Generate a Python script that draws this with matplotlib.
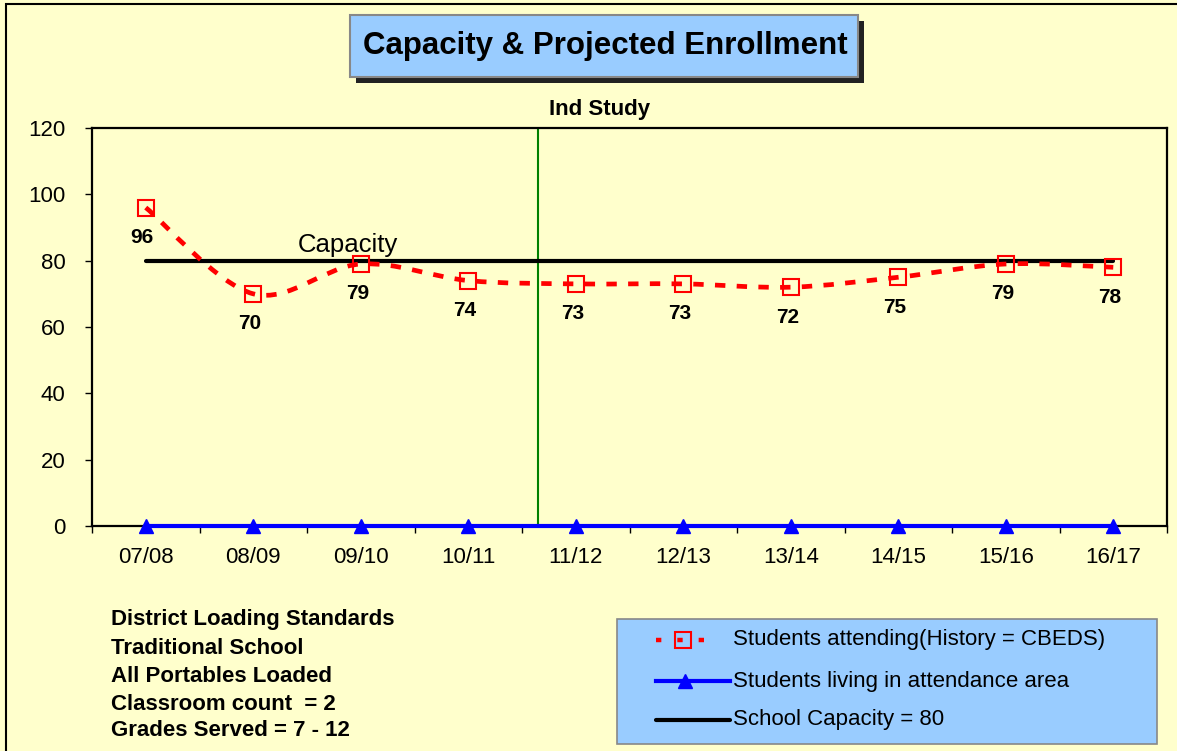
import matplotlib
matplotlib.use("Agg")
import matplotlib.pyplot as plt
from matplotlib.path import Path
from matplotlib.patches import PathPatch, Rectangle
from matplotlib.lines import Line2D
import numpy as np

plt.rcParams['font.family'] = ['Liberation Sans', 'DejaVu Sans']

# ---- data ----
years = ["07/08", "08/09", "09/10", "10/11", "11/12", "12/13", "13/14", "14/15", "15/16", "16/17"]
attending = [96, 70, 79, 74, 73, 73, 72, 75, 79, 78]
living = [0, 0, 0, 0, 0, 0, 0, 0, 0, 0]
capacity = [80, 80, 80, 80, 80, 80, 80, 80, 80, 80]
y_ticks = [0, 20, 40, 60, 80, 100, 120]
divider_pos = 3.65
title = "Capacity & Projected Enrollment"
divider_label = "Ind Study"
notes = ["District Loading Standards", "Traditional School", "All Portables Loaded",
         "Classroom count  = 2", "Grades Served = 7 - 12"]
legend_labels = ["Students attending(History = CBEDS)", "Students living in attendance area",
                 "School Capacity = 80"]

BG = "#FFFFCC"
BOX = "#99CCFF"
W, H = 1177, 751

fig = plt.figure(figsize=(W / 100, H / 100), dpi=100, facecolor=BG)

def fx(px):
    return px / W

def fy(py):
    return 1 - py / H

# outer border
fig.patches.append(Rectangle((fx(6), fy(760)), fx(1200) - fx(6), fy(4) - fy(760),
                             transform=fig.transFigure, facecolor="none",
                             edgecolor="black", lw=1.5, zorder=0))

ax = fig.add_axes([fx(92), fy(526), fx(1167) - fx(92), fy(128) - fy(526)])
ax.set_facecolor(BG)
x = np.arange(len(years))
ax.set_xlim(-0.5, len(years) - 0.5)
ax.set_ylim(0, 120)

# vertical divider
ax.axvline(divider_pos, color="#008000", lw=1.5, zorder=2)

# capacity line
ax.plot(x, capacity, color="black", lw=3, solid_capstyle="round", zorder=3)
ax.text(1.41, 84.7, "Capacity", fontsize=18.5, ha="left", va="center", zorder=5)

# smoothed attending line (Catmull-Rom bezier)
pts = np.column_stack([x, attending]).astype(float)
verts = [tuple(pts[0])]
codes = [Path.MOVETO]
n = len(pts)
for i in range(n - 1):
    p0 = pts[i - 1] if i > 0 else pts[i]
    p1 = pts[i]
    p2 = pts[i + 1]
    p3 = pts[i + 2] if i + 2 < n else pts[i + 1]
    c1 = p1 + (p2 - p0) / 6.0
    c2 = p2 - (p3 - p1) / 6.0
    verts += [tuple(c1), tuple(c2), tuple(p2)]
    codes += [Path.CURVE4, Path.CURVE4, Path.CURVE4]
ax.add_patch(PathPatch(Path(verts, codes), facecolor="none", edgecolor="red",
                       lw=3.4, linestyle=(0, (2.2, 2.4)), zorder=4))
ax.plot(x, attending, linestyle="none", marker="s", markersize=11,
        markerfacecolor="none", markeredgecolor="red", markeredgewidth=1.5, zorder=6)
for xi, v in zip(x, attending):
    ax.annotate(str(v), (xi, v), xytext=(-2.5, -21.5), textcoords="offset points",
                ha="center", va="center", fontsize=15, fontweight="bold", zorder=7)

# living line
ax.plot(x, living, color="blue", lw=3, marker="^", markersize=10,
        clip_on=False, zorder=5)

# axes styling
for s in ax.spines.values():
    s.set_color("black")
    s.set_linewidth(1.6)
ax.set_yticks(y_ticks)
ax.set_yticklabels([str(t) for t in y_ticks], fontsize=16)
ax.tick_params(axis="y", direction="out", length=5, width=1, pad=14)
ax.set_xticks(x)
ax.set_xticklabels(years, fontsize=16)
ax.tick_params(axis="x", which="major", length=0, pad=15)
ax.set_xticks(np.arange(-0.5, len(years), 1.0), minor=True)
ax.tick_params(axis="x", which="minor", direction="out", length=5, width=1)

# title box
fig.patches.append(Rectangle((fx(356), fy(83)), fx(864) - fx(356), fy(21) - fy(83),
                             transform=fig.transFigure, facecolor="#222222",
                             edgecolor="none", zorder=1))
fig.patches.append(Rectangle((fx(350), fy(77)), fx(858) - fx(350), fy(15) - fy(77),
                             transform=fig.transFigure, facecolor=BOX,
                             edgecolor="#888888", lw=1.5, zorder=2))
fig.text(fx(605), fy(46), title, fontsize=22.5, fontweight="bold",
         ha="center", va="center", zorder=3)

fig.text(fx(600), fy(110), divider_label, fontsize=16, fontweight="bold",
         ha="center", va="center")

# notes
note_y = [620, 648, 677, 704, 731]
for t, yy in zip(notes, note_y):
    fig.text(fx(111), fy(yy), t, fontsize=16, fontweight="bold", ha="left", va="center")

# legend box
fig.patches.append(Rectangle((fx(617), fy(744)), fx(1157) - fx(617), fy(619) - fy(744),
                             transform=fig.transFigure, facecolor=BOX,
                             edgecolor="#888888", lw=1.2, zorder=1))
rows = [640, 681, 720]
l1 = Line2D([fx(656), fx(708)], [fy(rows[0])] * 2, transform=fig.transFigure,
            color="red", lw=3.2, linestyle=(0, (1.2, 3.6)), zorder=3)
m1 = Line2D([fx(683)], [fy(rows[0])], transform=fig.transFigure, marker="s",
            markersize=11, markerfacecolor="none", markeredgecolor="red",
            markeredgewidth=1.5, linestyle="none", zorder=4)
l2 = Line2D([fx(656), fx(730)], [fy(rows[1])] * 2, transform=fig.transFigure,
            color="blue", lw=3, zorder=3)
m2 = Line2D([fx(685)], [fy(rows[1])], transform=fig.transFigure, marker="^",
            markersize=10, color="blue", linestyle="none", zorder=4)
l3 = Line2D([fx(656), fx(730)], [fy(rows[2])] * 2, transform=fig.transFigure,
            color="black", lw=3, solid_capstyle="round", zorder=3)
for ln in (l1, m1, l2, m2, l3):
    fig.lines.append(ln)
for t, yy in zip(legend_labels, rows):
    fig.text(fx(733), fy(yy), t, fontsize=16, ha="left", va="center", zorder=4)

fig.savefig("out.png", dpi=100, facecolor=BG)
